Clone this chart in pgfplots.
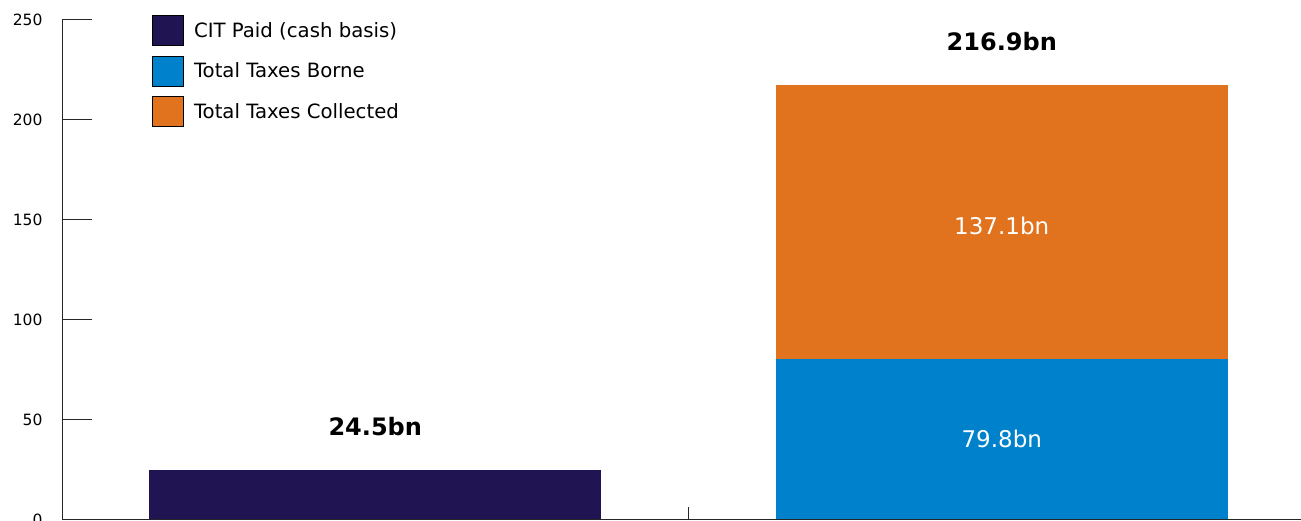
\documentclass[border=0pt]{standalone}
\usepackage{pgfplots}
\pgfplotsset{compat=1.18}
\usepackage{fontspec}
\setmainfont{DejaVu Sans}
\usetikzlibrary{calc}
\definecolor{cit}{HTML}{201552}
\definecolor{borne}{HTML}{0081CC}
\definecolor{coll}{HTML}{E2731E}
\begin{document}
\begin{tikzpicture}
\begin{axis}[
 scale only axis, width=1253pt, height=500pt,
 xmin=-0.5, xmax=1.5, ymin=0, ymax=250,
 axis x line=bottom, axis y line=left,
 axis line style={-, black!85, line width=0.8pt},
 ytick={0,50,...,250}, xtick=\empty,
 major tick length=30pt, tick align=inside,
 ytick style={black!85, line width=0.8pt},
 /pgf/number format/assume math mode=true,
 yticklabel style={font=\fontsize{15.5}{17}\selectfont, text=black, xshift=-16pt, yshift=-1pt},
 ybar stacked, bar width=0.721,
 clip=false,
 legend cell align=left,
 legend style={draw=none, fill=none, at={(rel axis cs:0,1)}, anchor=north west,
   xshift=90pt, yshift=4pt, inner sep=0pt, row sep=10pt, column sep=10pt,
   nodes={inner sep=0pt, font=\fontsize{19.7}{22}\selectfont}},
 legend image code/.code={\draw[#1] (0pt,-15pt) rectangle (31pt,15pt);},
]
\addplot[fill=cit, draw=none] coordinates {(0,24.5) (1,0)};
\addlegendentry{CIT Paid (cash basis)}
\addplot[fill=borne, draw=none] coordinates {(0,0) (1,79.8)};
\addlegendentry{Total Taxes Borne}
\addplot[fill=coll, draw=none, legend image code/.code={\draw[fill=coll, draw=black, line width=0.8pt] (0pt,-15pt) rectangle (31pt,15pt);}] coordinates {(0,0) (1,137.1)};
\addlegendentry{Total Taxes Collected}
\coordinate (a) at (axis cs:0,24.5);
\coordinate (b) at (axis cs:1,216.9);
\coordinate (c) at (axis cs:1,148.35);
\coordinate (d) at (axis cs:1,39.9);
\coordinate (m) at (axis cs:0.5,0);
\coordinate (o) at (axis cs:-0.5,0);
\end{axis}
\node[font=\bfseries\fontsize{24}{26}\selectfont] at ($(a)+(0,43pt)$) {24.5bn};
\node[font=\bfseries\fontsize{24}{26}\selectfont] at ($(b)+(0,44pt)$) {216.9bn};
\node[font=\fontsize{23}{26}\selectfont, text=white] at ($(c)+(0,-4pt)$) {137.1bn};
\node[font=\fontsize{23}{26}\selectfont, text=white] at (d) {79.8bn};
\draw[black!85, line width=0.8pt] (m) -- ($(m)+(0,12pt)$);
\pgfresetboundingbox
\path[use as bounding box] ($(o)+(-62pt,-2pt)$) rectangle ($(o)+(1239pt,519pt)$);
\end{tikzpicture}
\end{document}
